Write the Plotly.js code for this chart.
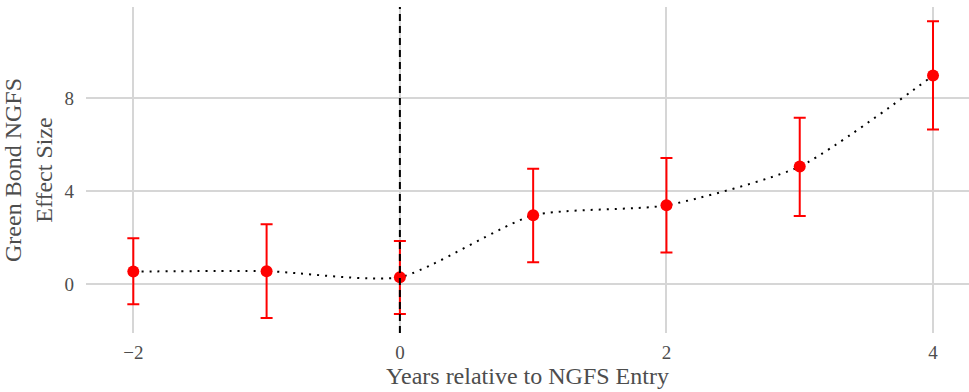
<!DOCTYPE html>
<html><head><meta charset="utf-8">
<script src="https://cdn.plot.ly/plotly-3.0.1.min.js"></script>
<style>body{margin:0;background:#fff}#c{width:969px;height:392px}</style>
</head><body><div id="c"></div>
<script>
var years = [-2, -1, 0, 1, 2, 3, 4];
var effect = [0.53, 0.55, 0.29, 2.95, 3.38, 5.05, 8.96];
var upper = [1.96, 2.57, 1.85, 4.95, 5.42, 7.15, 11.3];
var lower = [-0.87, -1.46, -1.29, 0.93, 1.35, 2.92, 6.64];
var xTickVals = [-2, 0, 2, 4];
var xTickText = ['\u22122', '0', '2', '4'];
var yTickVals = [0, 4, 8];
var errPlus = effect.map(function(v,i){return upper[i]-v;});
var errMinus = effect.map(function(v,i){return v-lower[i];});

var SERIF = "'Liberation Serif', 'Times New Roman', serif";
var traces = [
  {x: years, y: effect, mode: 'lines', type: 'scatter',
   line: {color: '#000', dash: '2px,6px', width: 2, shape: 'spline', smoothing: 0.6},
   hoverinfo: 'skip', showlegend: false},
  {x: years, y: effect, mode: 'markers', type: 'scatter',
   marker: {color: '#ff0000', size: 12},
   error_y: {type: 'data', symmetric: false, array: errPlus, arrayminus: errMinus,
             color: '#ff0000', thickness: 2, width: 6},
   showlegend: false}
];
var layout = {
  width: 969, height: 392,
  margin: {l: 86, r: 0, t: 7, b: 59},
  paper_bgcolor: '#fff', plot_bgcolor: '#fff',
  font: {family: SERIF, color: '#4d4d4d', size: 19},
  xaxis: {range: [-2.355, 4.27], tickvals: xTickVals, ticktext: xTickText,
          tickfont: {family: SERIF, size: 19, color: '#4d4d4d'},
          showgrid: true, gridcolor: '#d6d6d6', gridwidth: 2, zeroline: false,
          ticks: '', showline: false, ticklabelstandoff: 6,
          title: {text: 'Years relative to NGFS Entry', font: {family: SERIF, size: 24, color: '#4d4d4d'}, standoff: 2}},
  yaxis: {range: [-2.11, 11.91], tickvals: yTickVals,
          tickfont: {family: SERIF, size: 19, color: '#4d4d4d'},
          showgrid: true, gridcolor: '#d6d6d6', gridwidth: 2, zeroline: false,
          ticks: '', showline: false, ticklabelstandoff: 11,
          title: {text: 'Green Bond NGFS<br>Effect Size', font: {family: SERIF, size: 24, color: '#4d4d4d'}, standoff: 8}},
  shapes: [
    {type: 'line', xref: 'paper', x0: 0, x1: 1, yref: 'y', y0: 0, y1: 0,
     line: {color: '#000', width: 2}, layer: 'between'},
    {type: 'line', xref: 'x', x0: 0, x1: 0, yref: 'paper', y0: 0, y1: 1,
     line: {color: '#000', width: 2, dash: '7px,5px'}, layer: 'above'}
  ]
};
Plotly.newPlot('c', traces, layout, {displayModeBar: false});
</script></body></html>
